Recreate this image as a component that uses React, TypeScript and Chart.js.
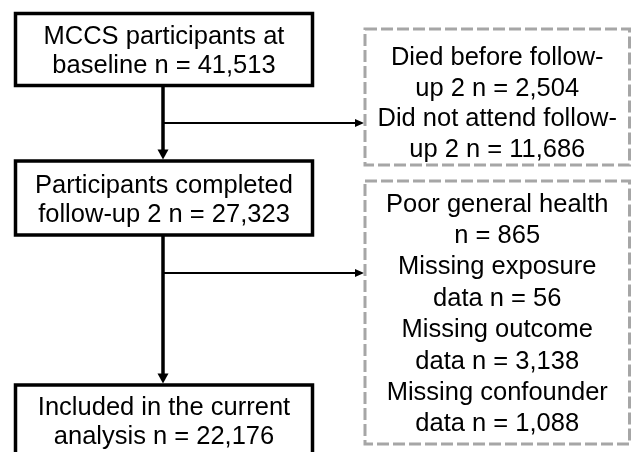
import React, { useEffect, useRef } from "react";
import { Chart, registerables } from "chart.js";

Chart.register(...registerables);

// ---- Flow content (data) ----
const stageLabels = [
  "MCCS participants at\nbaseline",
  "Participants completed\nfollow-up 2",
  "Included in the current\nanalysis",
];
const stageCounts = [41513, 27323, 22176];

const exclusionLabels1 = ["Died before follow-\nup 2", "Did not attend follow-\nup 2"];
const exclusionCounts1 = [2504, 11686];

const exclusionLabels2 = [
  "Poor general health\n",
  "Missing exposure\ndata",
  "Missing outcome\ndata",
  "Missing confounder\ndata",
];
const exclusionCounts2 = [865, 56, 3138, 1088];

// ---- Layout (in scale units) ----
const stageBoxes = [
  { x0: 15.5, x1: 312.5, y0: 13.5, y1: 85.5, dy: 0 },
  { x0: 15.5, x1: 312.5, y0: 161, y1: 235, dy: 0 },
  { x0: 15.5, x1: 312.5, y0: 385, y1: 456, dy: 0 },
];
const exclusionBoxes = [
  { x0: 365, x1: 629.5, y0: 29, y1: 165, dy: 5 },
  { x0: 365, x1: 629.5, y0: 181, y1: 444, dy: 0 },
];
const trunkX = 163;
const branchY = [123, 273];

const fmt = (n: number) => n.toLocaleString("en-US");

function linesFor(label: string, count: number): string[] {
  const parts = label.split("\n");
  const last = parts.pop() || "";
  parts.push((last ? last + " " : "") + "n = " + fmt(count));
  return parts;
}

export default function App() {
  const ref = useRef<HTMLCanvasElement>(null);

  useEffect(() => {
    document.body.style.margin = "0";
    const canvas = ref.current!;

    const plugin = {
      id: "flowchart",
      afterDraw(chart: any) {
        const ctx: CanvasRenderingContext2D = chart.ctx;
        const sx = chart.scales.x;
        const sy = chart.scales.y;
        const X = (v: number) => sx.getPixelForValue(v);
        const Y = (v: number) => sy.getPixelForValue(v);
        const FONT = "25.5px 'Liberation Sans', Arial, sans-serif";

        ctx.save();
        ctx.fillStyle = "#ffffff";
        ctx.fillRect(0, 0, chart.width, chart.height);

        // vertical trunks with arrowheads
        ctx.strokeStyle = "#000";
        ctx.fillStyle = "#000";
        for (let i = 0; i < stageBoxes.length - 1; i++) {
          const a = stageBoxes[i];
          const b = stageBoxes[i + 1];
          const tipY = Y(b.y0) - 1.5;
          ctx.lineWidth = 3.5;
          ctx.beginPath();
          ctx.moveTo(X(trunkX), Y(a.y1));
          ctx.lineTo(X(trunkX), tipY - 9);
          ctx.stroke();
          ctx.beginPath();
          ctx.moveTo(X(trunkX) - 5.5, tipY - 10);
          ctx.lineTo(X(trunkX) + 5.5, tipY - 10);
          ctx.lineTo(X(trunkX), tipY);
          ctx.closePath();
          ctx.fill();

          // branch to exclusion box
          const e = exclusionBoxes[i];
          const by = Y(branchY[i]);
          const tipX = X(e.x0) - 1;
          ctx.lineWidth = 2;
          ctx.beginPath();
          ctx.moveTo(X(trunkX), by);
          ctx.lineTo(tipX - 8, by);
          ctx.stroke();
          ctx.beginPath();
          ctx.moveTo(tipX - 9, by - 4);
          ctx.lineTo(tipX - 9, by + 4);
          ctx.lineTo(tipX, by);
          ctx.closePath();
          ctx.fill();
        }

        const drawText = (lines: string[], box: any, pitch: number) => {
          ctx.font = FONT;
          ctx.fillStyle = "#000";
          ctx.textAlign = "center";
          ctx.textBaseline = "alphabetic";
          const cx = (X(box.x0) + X(box.x1)) / 2;
          const cy = (Y(box.y0) + Y(box.y1)) / 2 + box.dy;
          const n = lines.length;
          lines.forEach((t, i) => {
            ctx.fillText(t, cx, cy + (i - (n - 1) / 2) * pitch + 9);
          });
        };

        // stage boxes
        stageBoxes.forEach((b, i) => {
          ctx.fillStyle = "#fff";
          ctx.fillRect(X(b.x0), Y(b.y0), X(b.x1) - X(b.x0), Y(b.y1) - Y(b.y0));
          ctx.strokeStyle = "#000";
          ctx.lineWidth = 3.5;
          ctx.setLineDash([]);
          ctx.strokeRect(X(b.x0), Y(b.y0), X(b.x1) - X(b.x0), Y(b.y1) - Y(b.y0));
          drawText(linesFor(stageLabels[i], stageCounts[i]), b, 29);
        });

        // exclusion boxes
        const groups = [
          { labels: exclusionLabels1, counts: exclusionCounts1 },
          { labels: exclusionLabels2, counts: exclusionCounts2 },
        ];
        exclusionBoxes.forEach((b, i) => {
          ctx.strokeStyle = "#a6a6a6";
          ctx.lineWidth = 3;
          ctx.setLineDash([12, 4]);
          ctx.strokeRect(X(b.x0), Y(b.y0), X(b.x1) - X(b.x0), Y(b.y1) - Y(b.y0));
          ctx.setLineDash([]);
          const g = groups[i];
          const lines: string[] = [];
          g.labels.forEach((l, j) => lines.push(...linesFor(l, g.counts[j])));
          drawText(lines, b, i === 0 ? 30.7 : 31.4);
        });

        ctx.restore();
      },
    };

    const chart = new Chart(canvas, {
      type: "scatter",
      data: { datasets: [{ data: [], pointRadius: 0 }] },
      options: {
        animation: false,
        responsive: false,
        events: [],
        layout: { padding: 0 },
        plugins: { legend: { display: false }, tooltip: { enabled: false } },
        scales: {
          x: { type: "linear", min: 0, max: 632, display: false },
          y: { type: "linear", min: 0, max: 452, reverse: true, display: false },
        },
      },
      plugins: [plugin],
    } as any);

    return () => chart.destroy();
  }, []);

  return (
    <div style={{ position: "absolute", left: 0, top: 0, width: 632, height: 452, background: "#fff" }}>
      <canvas ref={ref} width={632} height={452} style={{ display: "block" }} />
    </div>
  );
}
